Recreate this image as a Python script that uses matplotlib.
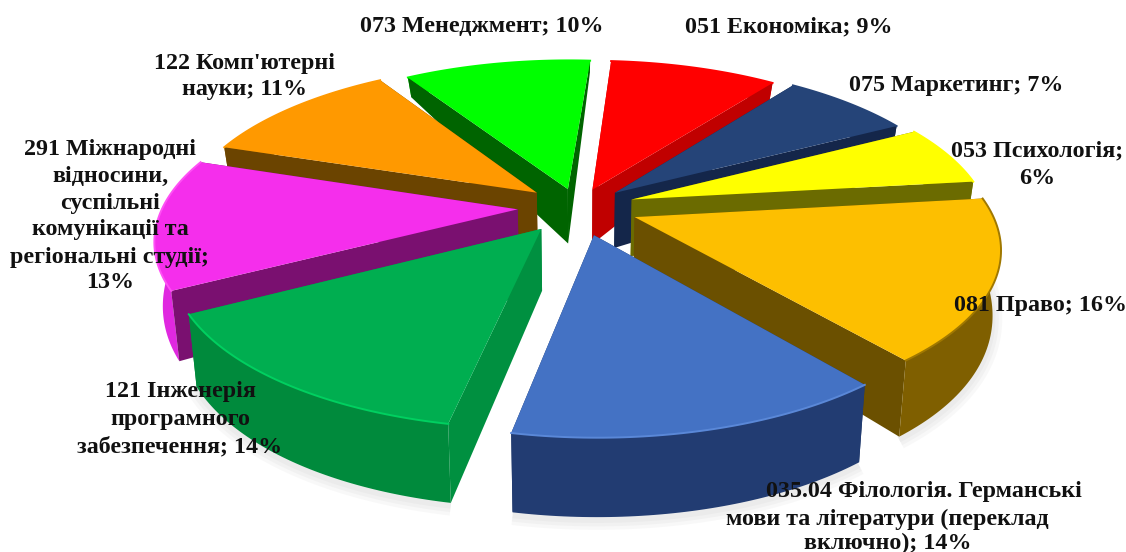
import numpy as np
import matplotlib
matplotlib.use("Agg")
import matplotlib.pyplot as plt
from matplotlib.transforms import Transform

names = ["051 Економіка", "075 Маркетинг", "053 Психологія", "081 Право",
         "035.04 Філологія. Германські мови та літератури (переклад включно)",
         "121 Інженерія програмного забезпечення",
         "291 Міжнародні відносини, суспільні комунікації та регіональні студії",
         "122 Комп'ютерні науки", "073 Менеджмент"]
values = [9, 7, 6, 16, 14, 14, 13, 11, 10]
top_colors = ["#ff0000", "#254478", "#ffff00", "#fdbf00", "#4472c4",
              "#00ae50", "#f52eec", "#ff9900", "#00ff00"]
cut_colors = ["#c00000", "#14264a", "#6b6b00", "#6b5000", "#1f3864",
              "#009040", "#7a1070", "#6b4400", "#006400"]
rim_colors = ["#d00000", "#14264a", "#8a8a00", "#7f5f00", "#223c72",
              "#008a3c", "#e028e0", "#8a5800", "#00e000"]
glint_colors = ["#ff0000", "#254478", "#ffff00", "#a07800", "#5a88d8",
                "#00d060", "#ff50f5", "#ff9900", "#00ff00"]
explode = [0.12, 0.14, 0.16, 0.17, 0.18, 0.17, 0.17, 0.15, 0.12]
order = [0, 8, 1, 7, 2, 6, 3, 5, 4]

label_lines = [("051 Економіка; 9%", 789, 27), ("075 Маркетинг; 7%", 956, 85),
               ("053 Психологія;", 1037, 151), ("6%", 1037, 178),
               ("081 Право; 16%", 1040, 306),
               ("035.04 Філологія. Германські", 924, 491),
               ("мови та літератури (переклад", 887, 519),
               ("включно); 14%", 888, 543),
               ("121 Інженерія", 180, 392), ("програмного", 180, 419),
               ("забезпечення; 14%", 180, 447),
               ("291 Міжнародні", 110, 150), ("відносини,", 110, 176),
               ("суспільні", 110, 203), ("комунікації та", 110, 230),
               ("регіональні студії;", 110, 257), ("13%", 110, 283),
               ("122 Комп'ютерні", 244, 63), ("науки; 11%", 244, 90),
               ("073 Менеджмент; 10%", 482, 26)]

CX, CY, A, B, P = 578, 207, 355, 156.6, 0.1725


class Proj(Transform):
    input_dims = output_dims = 2
    is_separable = False
    has_inverse = False

    def transform_non_affine(self, v):
        v = np.asarray(v, float)
        d = 1 + P * v[:, 1]
        return np.column_stack([CX + A * v[:, 0] / d, CY - B * v[:, 1] / d])


proj = Proj()
fig = plt.figure(figsize=(11.26, 5.52), dpi=100)
ax = fig.add_axes([0, 0, 1, 1])
wedges, _ = ax.pie(values, colors=top_colors, explode=explode, startangle=86,
                   counterclock=False)
ax.set_aspect("auto")
ax.set_xlim(0, 1126)
ax.set_ylim(552, 0)
ax.axis("off")


def drop(pts):
    y = np.clip(pts[:, 1], -1.2, 1.2)
    s = proj.transform(pts)
    h = 58 - 30 * y - 10 * y ** 2
    low = s + np.column_stack([np.zeros(len(s)), h])
    low[:, 0] = CX + (low[:, 0] - CX) * 0.98
    return s, low


def band(a, b, col, z):
    ax.fill(np.r_[a[:, 0], b[::-1, 0]], np.r_[a[:, 1], b[::-1, 1]],
            color=col, lw=0, zorder=z)


for z, i in enumerate(order):
    w = wedges[i]
    th = np.radians(np.linspace(w.theta1, w.theta2, 60))
    c = np.array(w.center)
    rim = c + w.r * np.column_stack([np.cos(th), np.sin(th)])
    a, b = drop(rim)
    front = rim[:, 1].mean() < -0.3
    band(a, b, rim_colors[i], (3 if front else 2) + z * 5)
    for end in (rim[0], rim[-1]):
        a2, b2 = drop(np.array([c, end]))
        band(a2, b2, cut_colors[i], (2 if front else 3) + z * 5)
    w.set_transform(proj + ax.transData)
    w.set_zorder(4 + z * 5)
    w.set_linewidth(0)
    ax.plot(a[:, 0], a[:, 1], color=glint_colors[i], lw=1.4, zorder=5 + z * 5)
    if front:
        for lw in (14, 9, 4):
            ax.plot(b[:, 0], b[:, 1] + 3, color="#808080", lw=lw, alpha=0.05,
                    zorder=1, solid_capstyle="butt")

for txt, x, y in label_lines:
    ax.text(x, y, txt, ha="center", va="center", family="Liberation Serif",
            weight="bold", fontsize=17.3, color="#111111", zorder=100)

fig.savefig("out.png", dpi=100)
